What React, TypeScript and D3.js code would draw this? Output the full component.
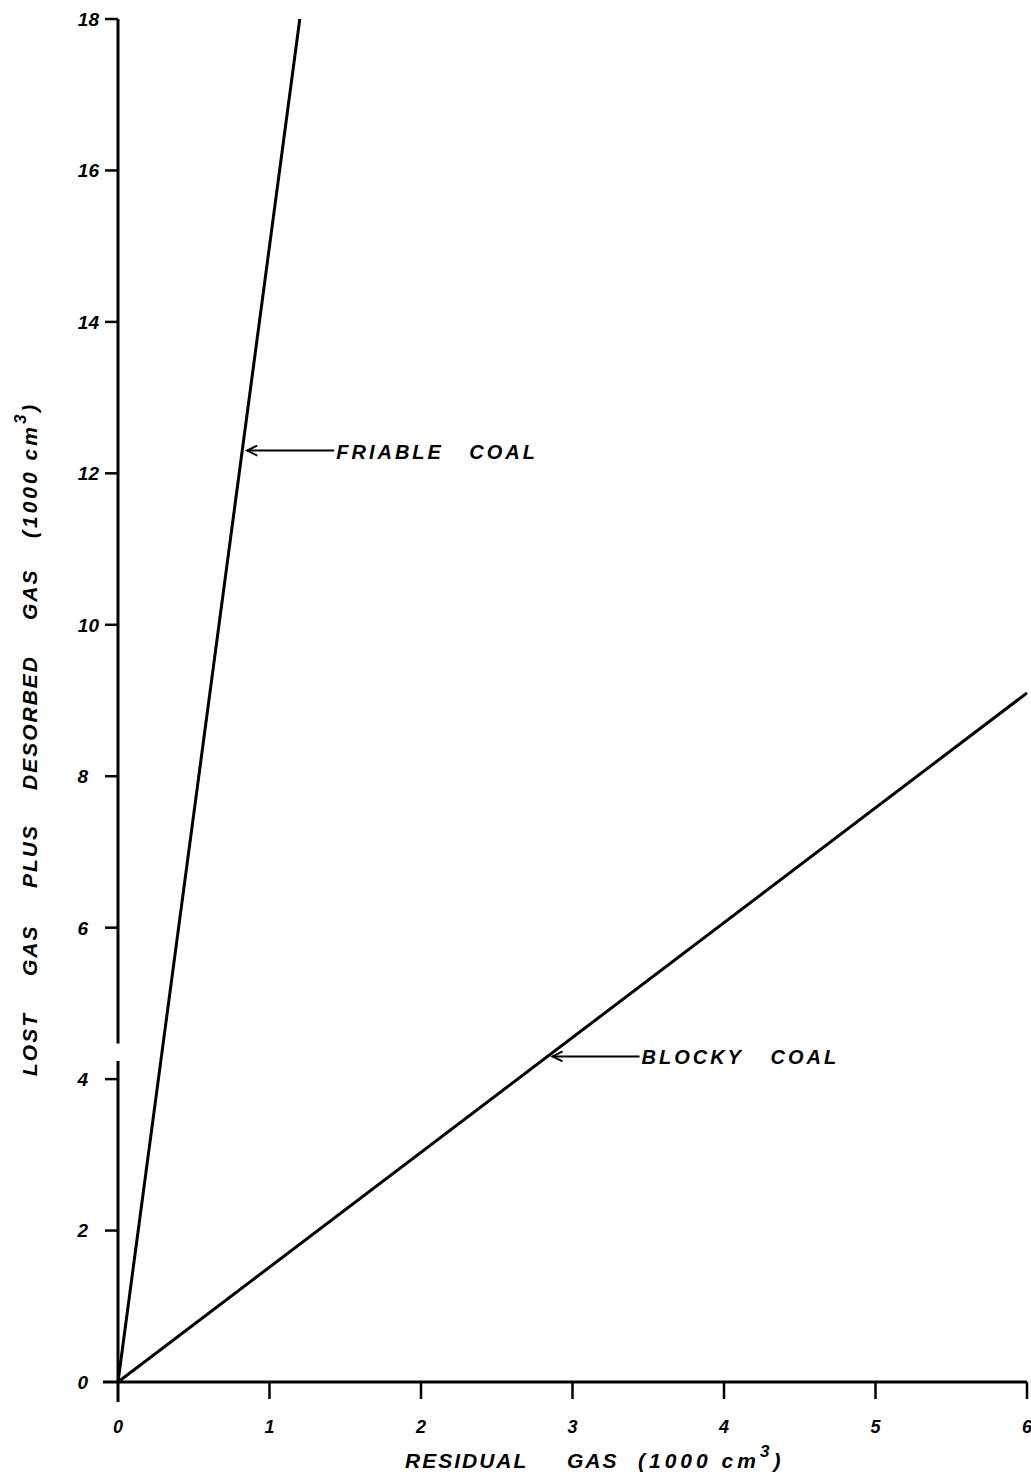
import React from "react";
import * as d3 from "d3";

const xTicks = [0, 1, 2, 3, 4, 5, 6];
const yTicks = [0, 2, 4, 6, 8, 10, 12, 14, 16, 18];
const friableCoal: [number, number][] = [[0, 0], [1.2, 18]];
const blockyCoal: [number, number][] = [[0, 0], [6, 9.1]];
const annotations = [
  { words: ["FRIABLE", "COAL"], atY: 12.3, series: "friable" },
  { words: ["BLOCKY", "COAL"], atY: 4.3, series: "blocky" },
];
const yTitleWords = ["LOST", "GAS", "PLUS", "DESORBED", "GAS"];
const yAxisBreak = [4.24, 4.47];

const W = 1031;
const H = 1475;
const FONT = "'Liberation Sans', Arial, sans-serif";

export default function App() {
  const x = d3.scaleLinear().domain([0, 6]).range([118, 1027]);
  const y = d3.scaleLinear().domain([0, 18]).range([1382, 19]);
  const line = d3
    .line<[number, number]>()
    .x((d) => x(d[0]))
    .y((d) => y(d[1]));

  const seriesMap: Record<string, [number, number][]> = {
    friable: friableCoal,
    blocky: blockyCoal,
  };
  const xAt = (pts: [number, number][], yv: number) => {
    const slope = (pts[1][1] - pts[0][1]) / (pts[1][0] - pts[0][0]);
    return yv / slope;
  };

  const textStyle: React.CSSProperties = {
    fontFamily: FONT,
    fontStyle: "italic",
    fontWeight: 700,
  };

  // y-title word starts (pixel along the axis, bottom to top)
  const yWordStarts = [1076, 976, 888, 790, 620];

  return (
    <svg
      width={W}
      height={H}
      style={{ position: "absolute", left: 0, top: 0, background: "#fff" }}
    >
      <rect x={0} y={0} width={W} height={H} fill="#fff" />
      {/* Y axis with break */}
      <line x1={x(0)} x2={x(0)} y1={y(18)} y2={y(yAxisBreak[1])} stroke="#000" strokeWidth={3} />
      <line x1={x(0)} x2={x(0)} y1={y(yAxisBreak[0])} y2={y(0) + 20} stroke="#000" strokeWidth={3} />
      {/* X axis */}
      <line x1={x(0) - 15} x2={x(6)} y1={y(0)} y2={y(0)} stroke="#000" strokeWidth={3} />

      {/* Y ticks */}
      {yTicks.map((t) => (
        <g key={"y" + t}>
          {t !== 0 && (
            <line x1={x(0) - 13} x2={x(0)} y1={y(t)} y2={y(t)} stroke="#000" strokeWidth={2.5} />
          )}
          <text
            x={String(t).length > 1 ? 99 : 88}
            y={y(t)}
            dy="0.36em"
            textAnchor="end"
            fontSize={19}
            style={textStyle}
          >
            {t}
          </text>
        </g>
      ))}

      {/* X ticks */}
      {xTicks.map((t) => (
        <g key={"x" + t}>
          {t !== 0 && (
            <line x1={x(t)} x2={x(t)} y1={y(0)} y2={y(0) + 17} stroke="#000" strokeWidth={2.5} />
          )}
          <text x={x(t)} y={1433} textAnchor="middle" fontSize={18} style={textStyle}>
            {t}
          </text>
        </g>
      ))}

      {/* Data lines */}
      <path d={line(friableCoal) || ""} fill="none" stroke="#000" strokeWidth={3} />
      <path d={line(blockyCoal) || ""} fill="none" stroke="#000" strokeWidth={3} />

      {/* Annotations */}
      {annotations.map((a) => {
        const pts = seriesMap[a.series];
        const tipX = x(xAt(pts, a.atY)) + 5;
        const ty = y(a.atY);
        const tailX = tipX + 87;
        return (
          <g key={a.series}>
            <line x1={tipX} x2={tailX} y1={ty} y2={ty} stroke="#000" strokeWidth={2} />
            <path
              d={`M${tipX + 10},${ty - 5} L${tipX},${ty} L${tipX + 10},${ty + 5}`}
              fill="none"
              stroke="#000"
              strokeWidth={2}
            />
            <text x={tailX + 2} y={ty + 8} fontSize={20} letterSpacing={3} style={textStyle}>
              {a.words[0]}
            </text>
            <text
              x={tailX + 2 + (a.series === "friable" ? 133 : 129)}
              y={ty + 8}
              fontSize={20}
              letterSpacing={3}
              style={textStyle}
            >
              {a.words[1]}
            </text>
          </g>
        );
      })}

      {/* X title */}
      <g style={textStyle} fontSize={21} letterSpacing={2}>
        <text x={405} y={1468}>RESIDUAL</text>
        <text x={567} y={1468}>GAS</text>
        <text x={638} y={1468} letterSpacing={4}>
          (1000 cm<tspan dy={-11} fontSize={17}>3</tspan>
          <tspan dy={11}>)</tspan>
        </text>
      </g>

      {/* Y title */}
      <g transform="translate(37,0) rotate(-90)" style={textStyle} fontSize={21} letterSpacing={2}>
        {yTitleWords.map((w, i) => (
          <text key={i} x={-yWordStarts[i]} y={0}>
            {w}
          </text>
        ))}
        <text x={-538} y={0} letterSpacing={3}>
          (1000 cm<tspan dy={-11} fontSize={17}>3</tspan>
          <tspan dy={11}>)</tspan>
        </text>
      </g>
    </svg>
  );
}
